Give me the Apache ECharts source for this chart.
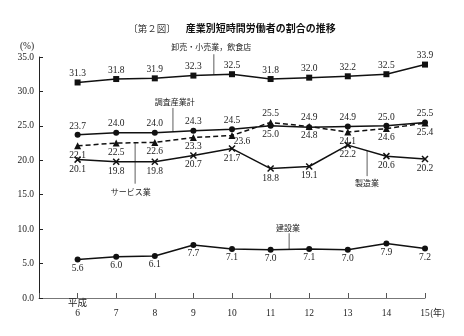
<!DOCTYPE html>
<html>
<head>
<meta charset="utf-8">
<script src="https://cdn.jsdelivr.net/npm/echarts@6/dist/echarts.min.js"></script>
<style>
  html, body { margin: 0; padding: 0; background: #fff; }
  #chart { width: 464px; height: 336px; }
</style>
</head>
<body>
<div id="chart"></div>
<script>
// 年（平成）
const years = [6, 7, 8, 9, 10, 11, 12, 13, 14, 15];

// 産業別短時間労働者の割合（%）
const wholesaleRetail = [31.3, 31.8, 31.9, 32.3, 32.5, 31.8, 32.0, 32.2, 32.5, 33.9];
const allIndustries   = [23.7, 24.0, 24.0, 24.3, 24.5, 25.0, 24.8, 24.9, 25.0, 25.5];
const services        = [22.1, 22.5, 22.6, 23.3, 23.6, 25.5, 24.9, 24.1, 24.6, 25.4];
const manufacturing   = [20.1, 19.8, 19.8, 20.7, 21.7, 18.8, 19.1, 22.2, 20.6, 20.2];
const construction    = [5.6, 6.0, 6.1, 7.7, 7.1, 7.0, 7.1, 7.0, 7.9, 7.2];

// 値ラベルの位置（t: 上, b: 下, r: 右下）
const allIndustriesLabelPos = ['t','t','t','t','t','b','b','t','t','t'];
const servicesLabelPos      = ['b','b','b','b','r','t','t','b','b','b'];

// y軸目盛
const yTicks = [0, 5, 10, 15, 20, 25, 30, 35];

const SERIF = '"Liberation Serif", "DejaVu Serif", "Noto Sans CJK JP", serif';
const INK = '#111';

function labelFor(pos) {
  if (pos === 't') return { position: 'top', distance: 1 };
  if (pos === 'r') return { position: 'bottom', distance: 0, offset: [10, -2] };
  return { position: 'bottom', distance: 1 };
}

function buildData(values, positions) {
  return values.map((v, i) => {
    const item = { value: [years[i], v] };
    if (positions) item.label = labelFor(positions[i]);
    return item;
  });
}

const crossPath = 'path://M0,0L10,10M10,0L0,10';

function lineSeries(name, values, opts) {
  return {
    name: name,
    type: 'line',
    data: buildData(values, opts.positions),
    symbol: opts.symbol,
    symbolSize: opts.symbolSize,
    lineStyle: { color: INK, width: 1.5, type: opts.dashed ? [5, 3] : 'solid' },
    itemStyle: { color: INK, borderColor: INK, borderWidth: opts.symbolBorder || 0 },
    label: {
      show: true,
      position: opts.labelPos || 'top',
      distance: 1,
      fontFamily: SERIF,
      fontSize: 9.5,
      color: '#222',
      formatter: p => p.value[1].toFixed(1)
    },
    emphasis: { disabled: true },
    z: 3
  };
}

const chart = echarts.init(document.getElementById('chart'), null, { renderer: 'canvas' });

const option = {
  backgroundColor: '#fff',
  animation: false,
  title: {
    text: '{a|〔第２図〕}  {b|産業別短時間労働者の割合の推移}',
    left: 'center',
    top: 14,
    textStyle: {
      rich: {
        a: { fontFamily: '"Noto Sans CJK JP", sans-serif', fontSize: 9.5, color: '#333', fontWeight: 'normal' },
        b: { fontFamily: '"Noto Sans CJK JP", sans-serif', fontSize: 10, color: '#111', fontWeight: 'bold' }
      }
    }
  },
  grid: { left: 39, right: 39, top: 57, bottom: 38 },
  xAxis: {
    type: 'value',
    min: 5,
    max: 15,
    interval: 1,
    splitLine: { show: false },
    axisLine: { show: true, lineStyle: { color: '#777', width: 1 } },
    axisTick: { show: true, inside: true, length: 5, lineStyle: { color: '#555' } },
    axisLabel: {
      margin: 0,
      fontFamily: SERIF,
      fontSize: 9.5,
      color: '#222',
      lineHeight: 10,
      verticalAlign: 'top',
      formatter: v => (v === years[0] ? '平成' : '') + '\n' + (v < years[0] ? '' : v)
    }
  },
  yAxis: {
    type: 'value',
    min: yTicks[0],
    max: yTicks[yTicks.length - 1],
    interval: yTicks[1] - yTicks[0],
    splitLine: { show: false },
    axisLine: { show: true, lineStyle: { color: '#222', width: 1 } },
    axisTick: { show: true, inside: true, length: 4, lineStyle: { color: '#222' } },
    axisLabel: {
      margin: 5,
      fontFamily: SERIF,
      fontSize: 9.5,
      color: '#222',
      formatter: v => v.toFixed(1)
    }
  },
  series: [
    lineSeries('卸売・小売業，飲食店', wholesaleRetail, { symbol: 'rect', symbolSize: 6, labelPos: 'top' }),
    lineSeries('調査産業計', allIndustries, { symbol: 'circle', symbolSize: 6, positions: allIndustriesLabelPos }),
    lineSeries('サービス業', services, { symbol: 'triangle', symbolSize: 7, dashed: true, positions: servicesLabelPos }),
    lineSeries('製造業', manufacturing, { symbol: crossPath, symbolSize: 6, symbolBorder: 1.5, labelPos: 'bottom' }),
    lineSeries('建設業', construction, { symbol: 'circle', symbolSize: 6, labelPos: 'bottom' })
  ]
};

chart.setOption(option);

// 系列名の注記と引出線（データ座標で指定）
const notes = [
  { text: '卸売・小売業，飲食店', at: [9.46, 36.45], from: [9.53, 35.4], to: [9.53, 32.4] },
  { text: '調査産業計',         at: [8.52, 28.45], from: [8.47, 27.6], to: [8.47, 24.15] },
  { text: 'サービス業',         at: [7.38, 15.4],  from: [7.49, 16.6], to: [7.49, 22.55] },
  { text: '製造業',             at: [13.5, 16.7],  from: [13.5, 17.7], to: [13.5, 21.4] },
  { text: '建設業',             at: [11.45, 10.2], from: [11.48, 9.4], to: [11.48, 7.05] }
];

const px = p => chart.convertToPixel({ gridIndex: 0 }, p);
const graphics = [];
notes.forEach(n => {
  const t = px(n.at), a = px(n.from), b = px(n.to);
  graphics.push({
    type: 'text',
    x: t[0], y: t[1],
    style: {
      text: n.text,
      font: '8px "Noto Sans CJK JP", sans-serif',
      fill: '#222',
      textAlign: 'center',
      textVerticalAlign: 'middle'
    }
  });
  graphics.push({
    type: 'line',
    shape: { x1: a[0], y1: a[1], x2: b[0], y2: b[1] },
    style: { stroke: '#333', lineWidth: 0.8 }
  });
});

// 単位表示
const top35 = px([5, yTicks[yTicks.length - 1]]);
graphics.push({
  type: 'text', x: 27, y: top35[1] - 11,
  style: { text: '(%)', font: '9.5px "Liberation Serif", serif', fill: '#222', textAlign: 'center', textVerticalAlign: 'middle' }
});
const end15 = px([years[years.length - 1], 0]);
graphics.push({
  type: 'text', x: end15[0] + 5, y: end15[1] + 15,
  style: { text: '(年)', font: '9px "Noto Sans CJK JP", sans-serif', fill: '#222', textAlign: 'left', textVerticalAlign: 'middle' }
});

chart.setOption({ graphic: graphics });
</script>
</body>
</html>
